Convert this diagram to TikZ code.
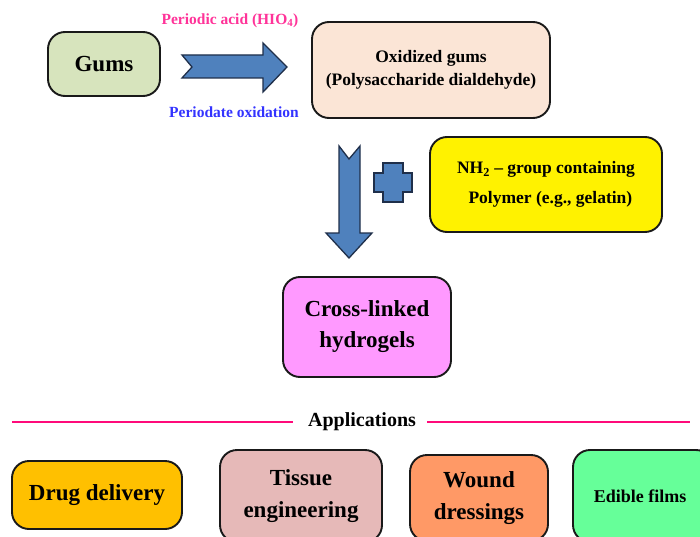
\documentclass[tikz,border=0pt]{standalone}
\usepackage{fontspec}
\setmainfont{Liberation Serif}
\definecolor{gumgreen}{HTML}{D7E4BD}
\definecolor{peach}{HTML}{FBE5D6}
\definecolor{gelpink}{HTML}{FF99FF}
\definecolor{arrowblue}{HTML}{4F81BD}
\definecolor{arrowedge}{HTML}{1F2F4A}
\definecolor{acidpink}{HTML}{FF3399}
\definecolor{oxblue}{HTML}{3333FF}
\definecolor{rulepink}{HTML}{FF0A7A}
\definecolor{drugorange}{HTML}{FFC000}
\definecolor{tissuerose}{HTML}{E6B9B8}
\definecolor{woundorange}{HTML}{FF9966}
\definecolor{filmgreen}{HTML}{66FF99}
\newcommand{\fs}[2]{\fontsize{#1}{#2}\selectfont\bfseries}
\tikzset{
  stagebox/.style={draw=black!90, line width=1.9pt, rounded corners=17pt, align=center, inner sep=0pt},
  blockarrow/.style={fill=arrowblue, draw=arrowedge, line width=1.3pt, line join=miter}
}
\begin{document}
\begin{tikzpicture}[x=1pt,y=-1pt]
        \clip (0,0) rectangle (700,537);
        \fill[white] (0,0) rectangle (700,537);

        % first step
        \node[stagebox, fill=gumgreen, minimum width=112pt, minimum height=64pt, font=\fs{23}{27}] (gums) at (104,64) {Gums};
        \node[stagebox, fill=peach, minimum width=238pt, minimum height=96pt, font=\fs{17.5}{23}] (oxgums) at (431,70)
            {Oxidized gums\\(Polysaccharide dialdehyde)};

        \node[text=acidpink, font=\fs{15.5}{18}] (acid) at (230,21) {Periodic acid (HIO\textsubscript{4})};
        \node[text=oxblue, font=\fs{15.5}{18}] (oxid) at (234,112) {Periodate oxidation};

        \draw[blockarrow] (182,55) -- (263,55) -- (263,43) -- (287,67) -- (263,92) -- (263,78) -- (182,78) -- (192,67) -- cycle;

        % second step
        \node[stagebox, fill=yellow, minimum width=232pt, minimum height=95pt, font=\fs{17.5}{30}] (polymer) at (546,184.5)
            {NH\textsubscript{2} -- group containing\\\ \ Polymer (e.g., gelatin)};

        \draw[blockarrow] (339,146) -- (349,159) -- (360,146) -- (360,233) -- (372,233) -- (349,258) -- (326,233) -- (339,233) -- cycle;
        \draw[blockarrow] (383,163) -- (403,163) -- (403,173) -- (412,173) -- (412,192) -- (403,192) -- (403,202) -- (383,202) -- (383,192) -- (374,192) -- (374,173) -- (383,173) -- cycle;

        \node[stagebox, fill=gelpink, minimum width=168pt, minimum height=100pt, font=\fs{23}{31}] (hydrogel) at (367,327)
            {Cross-linked\\hydrogels};

        % applications
        \node[font=\fs{20}{24}] (apps) at (362,422) {Applications};
        \coordinate (ruleleft) at (12,422);
        \coordinate (ruleright) at (690,422);
        \draw[rulepink, line width=2.5pt] (ruleleft) -- ([xshift=-12pt]apps.west);
        \draw[rulepink, line width=2.5pt] ([xshift=8pt]apps.east) -- (ruleright);

        \node[stagebox, fill=drugorange, minimum width=170pt, minimum height=68pt, font=\fs{23}{28}] (drug) at (97,495) {Drug delivery};
        \node[stagebox, fill=tissuerose, minimum width=162pt, minimum height=92pt, font=\fs{23}{32}] (tissue) at (301,496) {Tissue\\engineering};
        \node[stagebox, fill=woundorange, minimum width=138pt, minimum height=86pt, font=\fs{23}{32}] (wound) at (479,498) {Wound\\dressings};
        \node[stagebox, fill=filmgreen, minimum width=140pt, minimum height=92pt, font=\fs{18}{22}] (films) at (643,496) {\hspace{-6pt}Edible films};

\end{tikzpicture}
\end{document}
